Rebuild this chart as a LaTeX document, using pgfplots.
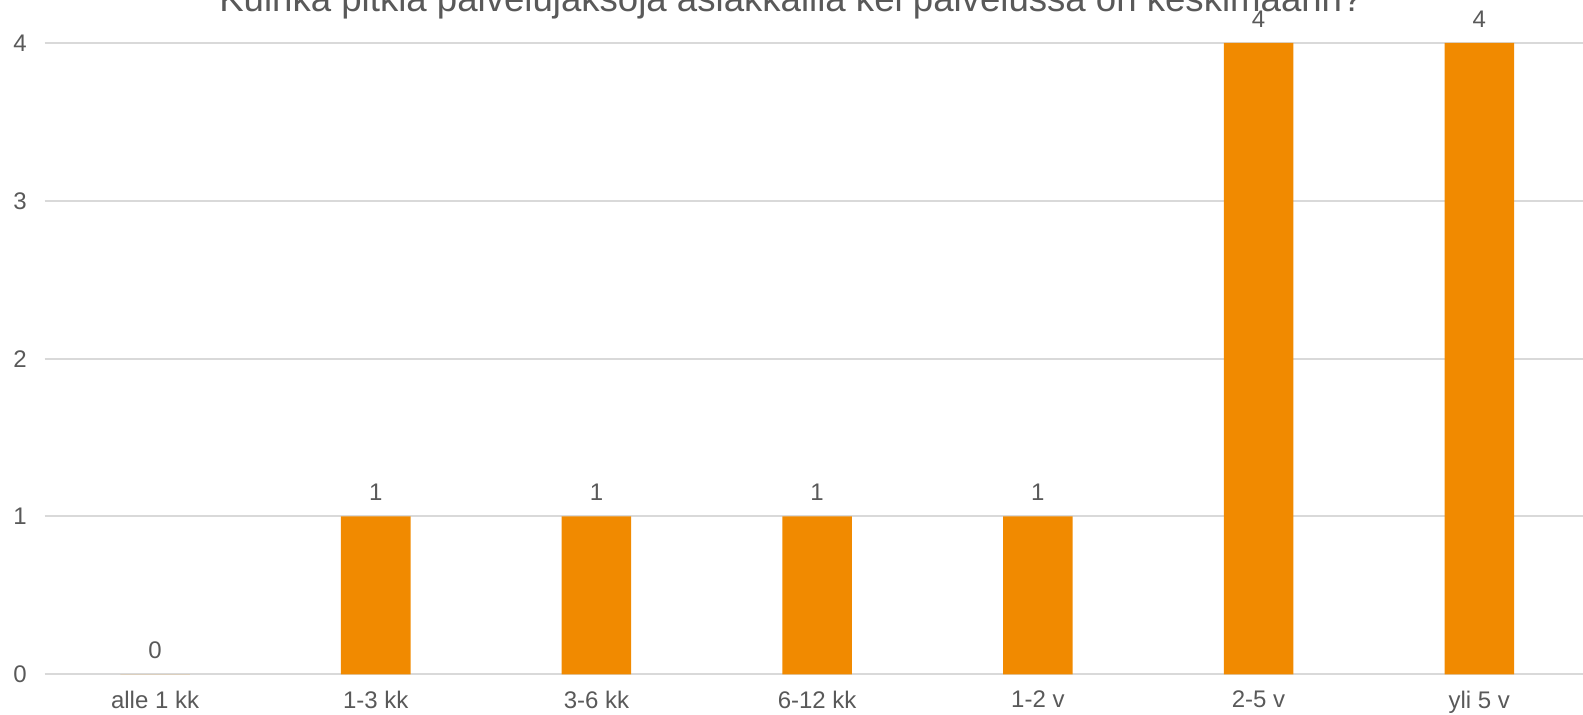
\documentclass[border=0pt]{standalone}
\usepackage{pgfplots}
\pgfplotsset{compat=1.18}
\usepackage{fontspec}
\setmainfont{Liberation Sans}
\definecolor{barorange}{HTML}{F18A00}
\definecolor{txtgray}{HTML}{595959}
\definecolor{gridgray}{HTML}{D9D9D9}
\begin{document}
\begin{tikzpicture}
\begin{axis}[
  at={(-0.65pt,-3.15pt)}, anchor=south west,
  scale only axis,
  width=772.45pt, height=315.65pt,
  xmin=-0.5, xmax=6.5,
  ymin=0, ymax=4,
  ybar, bar width=34.75pt,
  clip=false,
  axis line style={draw=none},
  major tick style={draw=none},
  ymajorgrids=true,
  grid style={gridgray, line width=1pt},
  xtick=data,
  xticklabels={alle 1 kk,1-3 kk,3-6 kk,6-12 kk,1-2 v,2-5 v,yli 5 v},
  ytick={0,1,2,3,4},
  /pgf/number format/assume math mode=true,
  ticklabel style={font=\fontsize{12}{14}\selectfont, color=txtgray},
  yticklabel style={xshift=-5.4pt},
  xticklabel style={yshift=-0.6pt},
  nodes near coords,
  every node near coord/.append style={font=\fontsize{12}{14}\selectfont, color=txtgray, anchor=base, yshift=7.9pt},
]
\addplot[fill=barorange, draw=none] coordinates {
  (0,0) (1,1) (2,1) (3,1) (4,1) (5,4) (6,4)
};
\end{axis}
\node[anchor=base, font=\fontsize{18.3}{21}\selectfont, color=txtgray] at (372.5pt,328pt)
  {Kuinka pitkiä palvelujaksoja asiakkailla kei palvelussa on keskimäärin?};
\pgfresetboundingbox
\useasboundingbox (-23pt,-23.5pt) rectangle (768.5pt,334pt);
\end{tikzpicture}
\end{document}
